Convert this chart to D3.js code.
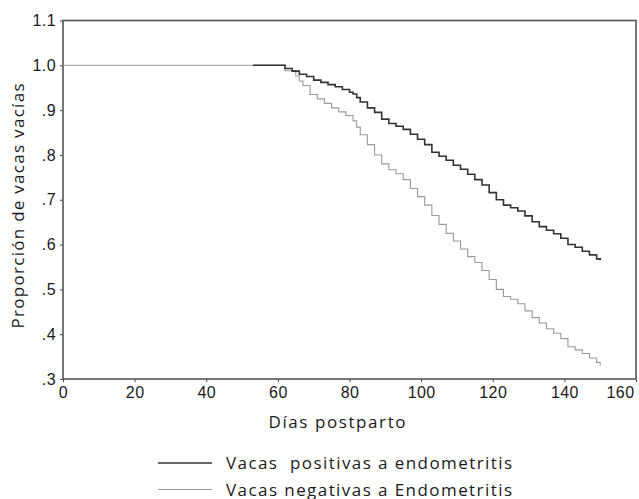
<!DOCTYPE html>
<html>
<head>
<meta charset="utf-8">
<script src="https://cdn.jsdelivr.net/npm/d3@7"></script>
<style>
  body { margin: 0; background: #fff; }
  svg { font-family: "Open Sans", "DejaVu Sans", sans-serif; }
  text { fill: #1a1a1a; }
</style>
</head>
<body>
<div id="chart"></div>
<script>
// Kaplan-Meier style curves
const days_positive = [53, 61, 62, 64, 66, 68, 70, 72, 74, 76, 78, 80, 81, 82, 83, 85, 87, 89, 91, 93, 95, 97, 99, 101, 103, 105, 107, 109, 111, 113, 115, 117, 119, 121, 123, 125, 127, 129, 131, 133, 135, 137, 139, 141, 143, 145, 147, 149, 150];
const surv_positive = [1.0, 1.0, 0.993, 0.987, 0.980, 0.975, 0.967, 0.962, 0.957, 0.952, 0.946, 0.940, 0.936, 0.928, 0.918, 0.905, 0.895, 0.880, 0.870, 0.864, 0.857, 0.846, 0.835, 0.823, 0.806, 0.797, 0.788, 0.777, 0.768, 0.757, 0.745, 0.733, 0.716, 0.700, 0.688, 0.682, 0.675, 0.664, 0.651, 0.640, 0.632, 0.624, 0.614, 0.600, 0.594, 0.585, 0.577, 0.568, 0.565];

const days_negative = [0, 61, 62, 65, 66, 67, 69, 71, 73, 75, 77, 79, 81, 82, 83, 85, 87, 89, 91, 93, 95, 97, 99, 101, 103, 105, 107, 109, 111, 113, 115, 117, 119, 121, 123, 125, 127, 129, 131, 133, 135, 137, 139, 141, 143, 145, 147, 149, 150];
const surv_negative = [1.0, 1.0, 0.988, 0.976, 0.965, 0.955, 0.935, 0.925, 0.915, 0.905, 0.896, 0.888, 0.876, 0.862, 0.845, 0.823, 0.800, 0.780, 0.767, 0.758, 0.745, 0.725, 0.707, 0.688, 0.665, 0.645, 0.625, 0.608, 0.590, 0.573, 0.560, 0.542, 0.522, 0.500, 0.484, 0.478, 0.468, 0.452, 0.437, 0.425, 0.412, 0.402, 0.390, 0.372, 0.365, 0.357, 0.347, 0.337, 0.330];

const x_ticks = [0, 20, 40, 60, 80, 100, 120, 140, 160];
const y_ticks = [0.3, 0.4, 0.5, 0.6, 0.7, 0.8, 0.9, 1.0, 1.1];
const legend_labels = ["Vacas  positivas a endometritis", "Vacas negativas a Endometritis"];

const width = 639, height = 499;

let svg = d3.select("#chart").append("svg")
    .attr("width", width)
    .attr("height", height);

let x = d3.scaleLinear().domain([0, 160]).range([63, 636]);
let y = d3.scaleLinear().domain([0.3, 1.1]).range([379, 20.5]);

function yFormat(d) {
    return d >= 1 ? d.toFixed(1) : d.toFixed(1).replace(/^0/, "");
}

// axes
let gx = svg.append("g")
    .attr("transform", "translate(0," + y(0.3) + ")")
    .call(d3.axisBottom(x).tickValues(x_ticks).tickSize(3).tickPadding(5).tickFormat(d3.format("d")));

let gy = svg.append("g")
    .attr("transform", "translate(" + x(0) + ",0)")
    .call(d3.axisLeft(y).tickValues(y_ticks).tickSize(3).tickPadding(4).tickFormat(yFormat));

[gx, gy].forEach(function (g) {
    g.select(".domain").remove();
    g.selectAll(".tick line").attr("stroke", "#444");
    g.selectAll(".tick text")
        .attr("font-size", 16)
        .attr("font-family", null)
        .style("fill", "#1a1a1a")
        .style("letter-spacing", "0.4px");
});

// last x label is pulled in so it stays on the page
gx.selectAll(".tick text").filter(function (d) { return d === 160; }).attr("dx", -16);

// frame
svg.append("rect")
    .attr("x", x(0))
    .attr("y", y(1.1))
    .attr("width", x(160) - x(0))
    .attr("height", y(0.3) - y(1.1))
    .attr("fill", "none")
    .attr("stroke", "#555")
    .attr("stroke-width", 1.6);

let line = d3.line()
    .x(function (d) { return x(d[0]); })
    .y(function (d) { return y(d[1]); })
    .curve(d3.curveStepAfter);

let negative = d3.zip(days_negative, surv_negative);
let positive = d3.zip(days_positive, surv_positive);

svg.append("path")
    .attr("d", line(negative))
    .attr("fill", "none")
    .attr("stroke", "#9a9a9a")
    .attr("stroke-width", 1.1);

svg.append("path")
    .attr("d", line(positive))
    .attr("fill", "none")
    .attr("stroke", "#333")
    .attr("stroke-width", 1.6);

// axis titles
svg.append("text")
    .attr("x", 337)
    .attr("y", 428)
    .attr("text-anchor", "middle")
    .attr("font-size", 17)
    .attr("textLength", 137)
    .attr("lengthAdjust", "spacing")
    .text("Días postparto");

svg.append("text")
    .attr("transform", "translate(24,206) rotate(-90)")
    .attr("text-anchor", "middle")
    .attr("font-size", 17)
    .attr("textLength", 245)
    .attr("lengthAdjust", "spacing")
    .text("Proporción de vacas vacías");

// legend
let legend_colors = ["#333", "#9a9a9a"];
let legend_widths = [1.6, 1.1];
let lg = svg.append("g");

lg.selectAll("line")
    .data(legend_labels)
    .enter()
    .append("line")
    .attr("x1", 158)
    .attr("x2", 212)
    .attr("y1", function (d, i) { return 463 + i * 26.5; })
    .attr("y2", function (d, i) { return 463 + i * 26.5; })
    .attr("stroke", function (d, i) { return legend_colors[i]; })
    .attr("stroke-width", function (d, i) { return legend_widths[i]; });

lg.selectAll("text")
    .data(legend_labels)
    .enter()
    .append("text")
    .attr("x", 226)
    .attr("y", function (d, i) { return 468.5 + i * 27; })
    .attr("font-size", 17)
    .attr("textLength", 286)
    .attr("lengthAdjust", "spacing")
    .style("white-space", "pre")
    .text(function (d) { return d; });
</script>
</body>
</html>
